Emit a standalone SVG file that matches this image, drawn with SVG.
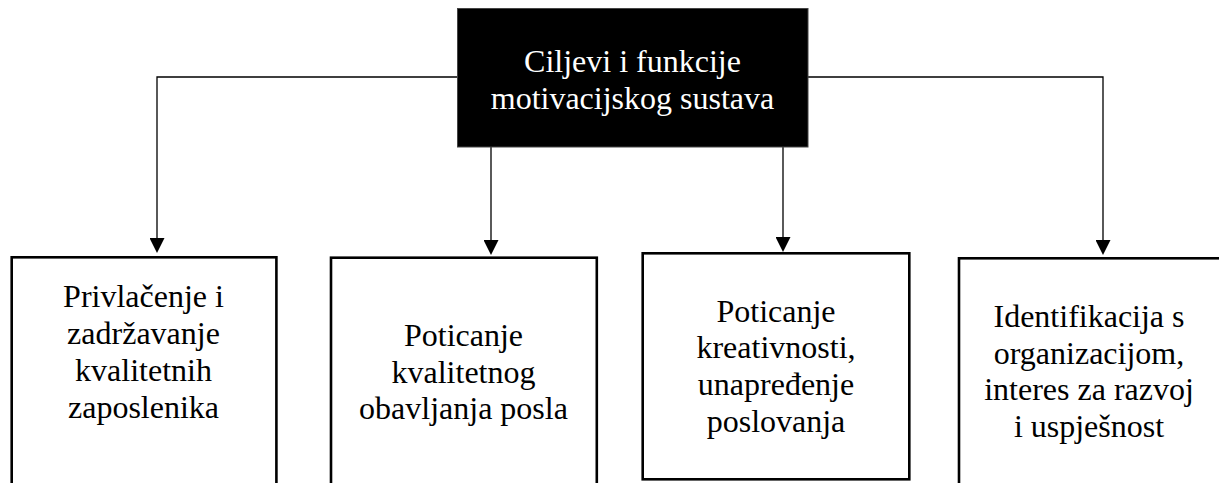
<svg xmlns="http://www.w3.org/2000/svg" width="1219" height="483" viewBox="0 0 1219 483">
  <style>
    .box { fill: #ffffff; stroke: #000000; stroke-width: 2.6; }
    .top { fill: #000000; stroke: #444444; stroke-width: 1; }
    .conn { fill: none; stroke: #000000; stroke-width: 1.3; }
    .t { font-family: 'Liberation Serif', Tinos, 'DejaVu Serif', serif; font-size: 32px; text-anchor: middle; fill: #000000; }
    .tw { fill: #ffffff; }
  </style>
  <defs>
    <marker id="arrow" markerUnits="userSpaceOnUse" markerWidth="16" markerHeight="15" refX="13" refY="7.5" orient="auto">
      <path d="M0,0 L15,7.5 L0,15 Z" fill="#000000"/>
    </marker>
  </defs>
  <rect width="1219" height="483" fill="#ffffff"/>

  <g id="connectors">
    <path class="conn" d="M457,77 H157 V251" marker-end="url(#arrow)"/>
    <path class="conn" d="M491,147 V253" marker-end="url(#arrow)"/>
    <path class="conn" d="M783,147 V250" marker-end="url(#arrow)"/>
    <path class="conn" d="M808,77 H1103 V253" marker-end="url(#arrow)"/>
  </g>

  <g id="node-root">
    <rect class="top" x="457.5" y="8.5" width="350.5" height="138.5"/>
    <text class="t tw" x="632.5" y="72" font-family="Liberation Serif">Ciljevi i funkcije</text>
    <text class="t tw" x="632.5" y="108.6" font-family="Liberation Serif">motivacijskog sustava</text>
  </g>

  <g id="node-1" font-family="Liberation Serif">
    <rect class="box" x="11.7" y="257.3" width="264.7" height="240"/>
    <text class="t" x="143.5" y="307.3">Privlačenje i</text>
    <text class="t" x="143.5" y="344.1">zadržavanje</text>
    <text class="t" x="143.5" y="380.9">kvalitetnih</text>
    <text class="t" x="143.5" y="417.7">zaposlenika</text>
  </g>

  <g id="node-2">
    <rect class="box" x="331" y="257.7" width="265.8" height="240"/>
    <text class="t" x="463.5" y="345.7">Poticanje</text>
    <text class="t" x="463.5" y="382.5">kvalitetnog</text>
    <text class="t" x="463.5" y="419.3">obavljanja posla</text>
  </g>

  <g id="node-3">
    <rect class="box" x="642.7" y="253.3" width="266.6" height="226"/>
    <text class="t" x="776" y="321.6">Poticanje</text>
    <text class="t" x="776" y="358.4">kreativnosti,</text>
    <text class="t" x="776" y="395.2">unapređenje</text>
    <text class="t" x="776" y="432">poslovanja</text>
  </g>

  <g id="node-4">
    <rect class="box" x="959" y="258.3" width="262" height="240"/>
    <text class="t" x="1089" y="326.7">Identifikacija s</text>
    <text class="t" x="1089" y="363.5">organizacijom,</text>
    <text class="t" x="1089" y="400.3">interes za razvoj</text>
    <text class="t" x="1089" y="437.1">i uspješnost</text>
  </g>
</svg>
